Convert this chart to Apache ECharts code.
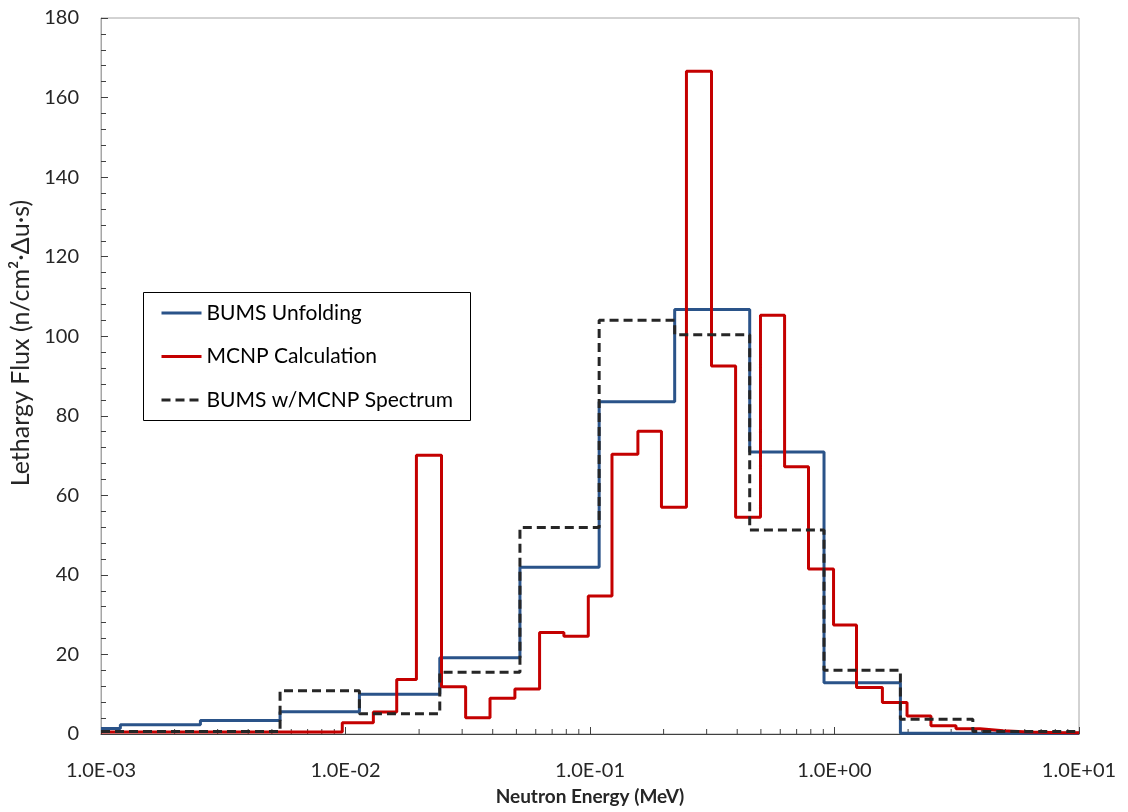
<!DOCTYPE html>
<html>
<head>
<meta charset="utf-8">
<script src="https://cdn.jsdelivr.net/npm/echarts@6/dist/echarts.min.js"></script>
<style>
  html, body { margin: 0; padding: 0; background: #fff; }
  #chart { width: 1128px; height: 812px; }
</style>
</head>
<body>
<div id="chart"></div>
<script>
// Group boundaries (MeV): lower edge of every group, then the upper edge of the last one
const bumsEdges = [1.0e-3, 1.2e-3, 2.55e-3, 5.4e-3, 1.14e-2, 2.43e-2, 5.17e-2, 1.09e-1, 2.22e-1, 4.5e-1, 9.06e-1, 1.86, 10];
// BUMS unfolded lethargy flux per group
const bumsFlux = [1.4, 2.3, 3.4, 5.6, 10.0, 19.2, 41.9, 83.5, 106.7, 70.9, 12.9, 0.2];

// MCNP tally boundaries (MeV) and lethargy flux
const mcnpEdges = [1.0e-3, 0.0097, 0.0130, 0.0162, 0.0195, 0.0247, 0.031, 0.039, 0.0493, 0.0622,
  0.0782, 0.0984, 0.123, 0.157, 0.196, 0.248, 0.314, 0.394, 0.498, 0.625,
  0.783, 0.991, 1.23, 1.57, 1.98, 2.48, 3.14, 3.94, 4.9, 6.2, 7.8, 10];
const mcnpFlux = [0.5, 2.8, 5.5, 13.7, 70.1, 11.9, 4.1, 9.0, 11.3, 25.5,
  24.6, 34.7, 70.3, 76.1, 57.0, 166.6, 92.5, 54.5, 105.3, 67.2,
  41.5, 27.4, 11.7, 7.9, 4.5, 2.1, 1.3, 0.8, 0.5, 0.4, 0.3];

// BUMS unfolding started from the MCNP spectrum
const bumsMcnpEdges = [1.0e-3, 5.4e-3, 1.14e-2, 2.43e-2, 5.17e-2, 1.09e-1, 2.22e-1, 4.5e-1, 9.06e-1, 1.86, 3.68, 10];
const bumsMcnpFlux = [0.6, 10.9, 5.1, 15.5, 51.9, 104.0, 100.4, 51.3, 16.0, 3.7, 0.6];

// Y axis range and tick step
const yMin = 0, yMax = 180, yStep = 20;

// Turn group edges + values into step points (value held up to the next edge)
function stepPoints(edges, flux) {
  const pts = flux.map((v, i) => [edges[i], v]);
  pts.push([edges[edges.length - 1], flux[flux.length - 1]]);
  return pts;
}

// Subdivisions of each decade (2..9 x 10^d) marked by short inner ticks
const decadeSubTicks = [];
for (let d = -3; d < 1; d++) {
  for (let k = 2; k <= 9; k++) decadeSubTicks.push([k * Math.pow(10, d), 0]);
}

function sciLabel(v) {
  const e = Math.round(Math.log10(v));
  const m = v / Math.pow(10, e);
  const sign = e < 0 ? '-' : '+';
  return m.toFixed(1) + 'E' + sign + String(Math.abs(e)).padStart(2, '0');
}

const FONT = 'Lato, "Noto Sans", sans-serif';
const TEXT = '#262626';

const chart = echarts.init(document.getElementById('chart'), null, { renderer: 'canvas' });

chart.setOption({
  animation: false,
  backgroundColor: '#ffffff',
  textStyle: { fontFamily: FONT },
  grid: {
    left: 100, right: 49, top: 18, bottom: 78,
    show: true, borderColor: '#a6a6a6', borderWidth: 1, backgroundColor: 'transparent'
  },
  xAxis: {
    type: 'log',
    logBase: 10,
    min: 1e-3,
    max: 10,
    name: 'Neutron Energy (MeV)',
    nameLocation: 'middle',
    nameGap: 53,
    nameTextStyle: { fontFamily: FONT, fontSize: 19, fontWeight: 'bold', color: TEXT },
    axisLine: { show: true, onZero: false, lineStyle: { color: '#404040', width: 1 } },
    axisTick: { show: true, inside: true, length: 7, lineStyle: { color: '#404040' } },
    axisLabel: {
      margin: 27, fontSize: 20, color: TEXT, fontFamily: FONT,
      formatter: sciLabel
    },
    splitLine: { show: false },
    minorTick: { show: false },
    minorSplitLine: { show: false }
  },
  yAxis: {
    type: 'value',
    min: yMin,
    max: yMax,
    interval: yStep,
    name: 'Lethargy Flux (n/cm²·Δu·s)',
    nameLocation: 'middle',
    nameGap: 68,
    nameRotate: 90,
    nameTextStyle: { fontFamily: FONT, fontSize: 25, color: TEXT, padding: [0, 0, 0, 66] },
    axisLine: { show: true, onZero: false, lineStyle: { color: '#a6a6a6', width: 1 } },
    axisTick: { show: true, inside: true, length: 7, lineStyle: { color: '#404040' } },
    minorTick: { show: true, splitNumber: 5, length: 5, lineStyle: { color: '#404040' } },
    axisLabel: { margin: 22, fontSize: 20, color: TEXT, fontFamily: FONT },
    splitLine: { show: false }
  },
  legend: {
    orient: 'vertical',
    left: 160,
    top: 302,
    padding: 0,
    itemWidth: 40,
    itemHeight: 14,
    itemGap: 21.5,
    itemStyle: { opacity: 0 },
    lineStyle: { width: 3 },
    textStyle: { fontFamily: FONT, fontSize: 21, color: '#000', lineHeight: 22 },
    data: ['BUMS Unfolding', 'MCNP Calculation', 'BUMS w/MCNP Spectrum']
  },
  graphic: [{
    type: 'rect',
    z: 3,
    shape: { x: 143.5, y: 292.5, width: 327, height: 128 },
    style: { fill: '#ffffff', stroke: '#000000', lineWidth: 1 }
  }],
  series: [{
    name: 'BUMS Unfolding',
    type: 'line',
    step: 'end',
    symbol: 'none',
    z: 2,
    lineStyle: { color: '#2a5389', width: 3 },
    itemStyle: { color: '#2a5389' },
    data: stepPoints(bumsEdges, bumsFlux)
  }, {
    name: 'MCNP Calculation',
    type: 'line',
    step: 'end',
    symbol: 'none',
    z: 2,
    lineStyle: { color: '#c40000', width: 3 },
    itemStyle: { color: '#c40000' },
    data: stepPoints(mcnpEdges, mcnpFlux)
  }, {
    name: 'BUMS w/MCNP Spectrum',
    type: 'line',
    step: 'end',
    symbol: 'none',
    z: 2,
    lineStyle: { color: '#262626', width: 3, type: [9, 5] },
    itemStyle: { color: '#262626' },
    data: stepPoints(bumsMcnpEdges, bumsMcnpFlux)
  }, {
    name: 'decade ticks',
    type: 'custom',
    silent: true,
    z: 1,
    clip: false,
    renderItem: function (params, api) {
      const p = api.coord([api.value(0), api.value(1)]);
      return {
        type: 'line',
        shape: { x1: p[0], y1: p[1], x2: p[0], y2: p[1] - 5 },
        style: { stroke: '#404040', lineWidth: 1 }
      };
    },
    data: decadeSubTicks
  }]
});
</script>
</body>
</html>
